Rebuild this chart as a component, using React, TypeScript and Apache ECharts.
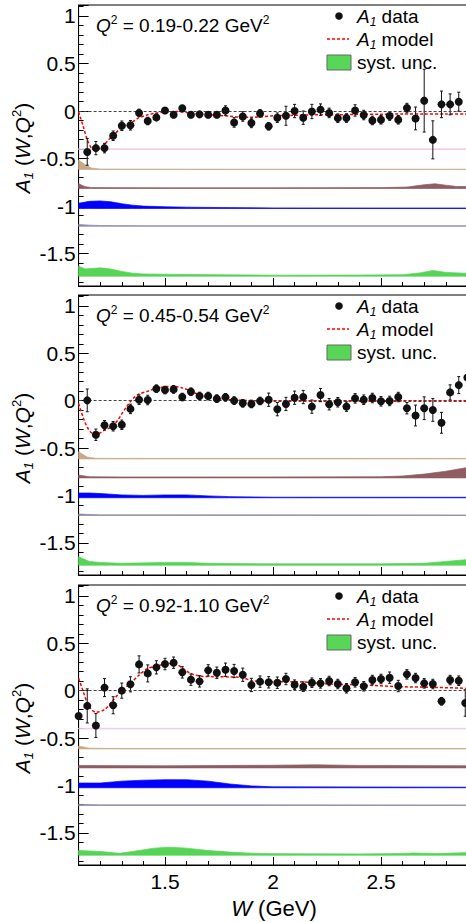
import React, { useEffect, useRef } from 'react';
import * as echarts from 'echarts';

// W bin centres (GeV)
const W_BINS = [
  1.14, 1.18, 1.22, 1.26, 1.30, 1.34, 1.38, 1.42, 1.46, 1.50, 1.54, 1.58, 1.62, 1.66, 1.70,
  1.74, 1.78, 1.82, 1.86, 1.90, 1.94, 1.98, 2.02, 2.06, 2.10, 2.14, 2.18, 2.22, 2.26, 2.30,
  2.34, 2.38, 2.42, 2.46, 2.50, 2.54, 2.58, 2.62, 2.66, 2.70, 2.74, 2.78, 2.82, 2.86, 2.90,
];
const W_P1 = W_BINS.slice(0, 44);
const W_P2 = W_BINS;
const W_P3 = [1.10, ...W_BINS.slice(0, 44), 2.89];

const Q2_LABELS = ['0.19-0.22', '0.45-0.54', '0.92-1.10'];

// A1 data and stat. errors
const A1_P1 = [
  -0.43, -0.39, -0.39, -0.26, -0.155, -0.15, -0.02, -0.105, -0.067, 0.006,
  -0.04, 0.03, -0.04, -0.035, -0.04, -0.04, 0.005, -0.12, -0.057, -0.125,
  -0.025, -0.16, -0.07, -0.05, 0.0, -0.07, -0.005, 0.015, -0.02, -0.075,
  -0.074, 0.006, -0.042, -0.099, -0.092, -0.053, -0.092, 0.031, -0.078, 0.109,
  -0.303, 0.07, 0.07, 0.098,
];
const ERR_P1 = [
  0.14, 0.07, 0.05, 0.05, 0.05, 0.05, 0.04, 0.04, 0.035, 0.03,
  0.03, 0.03, 0.03, 0.03, 0.03, 0.03, 0.05, 0.05, 0.05, 0.05,
  0.04, 0.04, 0.05, 0.1, 0.07, 0.07, 0.075, 0.06, 0.05, 0.045,
  0.045, 0.06, 0.05, 0.045, 0.045, 0.045, 0.045, 0.05, 0.12, 0.33,
  0.2, 0.14, 0.11, 0.1,
];
const A1_P2 = [
  0.003, -0.36, -0.26, -0.27, -0.255, -0.087, 0.01, 0.007, 0.126, 0.112,
  0.119, 0.038, 0.094, 0.049, 0.049, 0.021, 0.035, 0.0, -0.028, -0.035,
  -0.003, 0.01, -0.09, -0.035, 0.031, 0.038, -0.063, 0.059, -0.038, -0.017,
  -0.063, 0.024, 0.01, 0.028, -0.007, -0.003, 0.038, -0.08, -0.157, -0.08,
  -0.098, -0.234, 0.087, 0.164, 0.245,
];
const ERR_P2 = [
  0.12, 0.06, 0.05, 0.05, 0.05, 0.05, 0.05, 0.05, 0.04, 0.04,
  0.04, 0.04, 0.04, 0.04, 0.04, 0.04, 0.04, 0.04, 0.04, 0.04,
  0.04, 0.07, 0.07, 0.07, 0.07, 0.07, 0.07, 0.07, 0.06, 0.05,
  0.05, 0.05, 0.05, 0.05, 0.05, 0.05, 0.05, 0.06, 0.11, 0.12,
  0.12, 0.11, 0.08, 0.09, 0.09,
];
const A1_P3 = [
  -0.267, -0.161, -0.368, 0.032, -0.154, 0.0, 0.067, 0.277, 0.182, 0.246,
  0.281, 0.295, 0.193, 0.116, 0.098, 0.214, 0.189, 0.221, 0.207, 0.168,
  0.06, 0.095, 0.088, 0.084, 0.123, 0.063, 0.042, 0.084, 0.077, 0.102,
  0.07, 0.025, 0.088, 0.046, 0.112, 0.123, 0.137, 0.049, 0.172, 0.133,
  0.077, 0.07, -0.112, 0.112, 0.105, -0.13,
];
const ERR_P3 = [
  0.03, 0.18, 0.126, 0.095, 0.09, 0.08, 0.08, 0.09, 0.09, 0.07,
  0.06, 0.06, 0.06, 0.06, 0.06, 0.06, 0.06, 0.07, 0.07, 0.07,
  0.07, 0.06, 0.06, 0.06, 0.06, 0.05, 0.05, 0.05, 0.05, 0.05,
  0.05, 0.05, 0.05, 0.05, 0.05, 0.05, 0.06, 0.06, 0.05, 0.05,
  0.05, 0.05, 0.04, 0.05, 0.05, 0.14,
];

// A1 model curves [W, A1]
const MODEL_P1 = [
  [1.10, -0.01], [1.12, -0.15], [1.14, -0.30], [1.16, -0.39], [1.18, -0.41], [1.20, -0.39],
  [1.22, -0.35], [1.24, -0.30], [1.26, -0.26], [1.30, -0.17], [1.34, -0.13], [1.38, -0.07],
  [1.42, -0.04], [1.46, -0.02], [1.50, -0.01], [1.55, -0.005], [1.60, -0.015], [1.65, -0.03],
  [1.70, -0.04], [1.75, -0.045], [1.80, -0.055], [1.85, -0.065], [1.90, -0.065], [1.95, -0.06],
  [2.00, -0.05], [2.10, -0.045], [2.20, -0.04], [2.30, -0.04], [2.40, -0.035], [2.50, -0.035],
  [2.60, -0.03], [2.70, -0.03], [2.80, -0.03], [2.90, -0.03],
];
const MODEL_P2 = [
  [1.10, -0.03], [1.12, -0.17], [1.14, -0.28], [1.16, -0.34], [1.18, -0.355], [1.20, -0.34],
  [1.22, -0.31], [1.24, -0.29], [1.26, -0.26], [1.28, -0.21], [1.30, -0.14], [1.32, -0.07],
  [1.34, -0.01], [1.36, 0.04], [1.38, 0.07], [1.42, 0.10], [1.46, 0.13], [1.50, 0.145],
  [1.54, 0.15], [1.58, 0.135], [1.62, 0.10], [1.66, 0.06], [1.70, 0.035], [1.75, 0.02],
  [1.80, 0.01], [1.90, 0.0], [2.00, -0.005], [2.20, -0.005], [2.40, -0.005], [2.60, -0.005],
  [2.90, -0.005],
];
const MODEL_P3 = [
  [1.10, 0.13], [1.12, 0.0], [1.14, -0.13], [1.16, -0.2], [1.18, -0.228], [1.22, -0.2],
  [1.26, -0.1], [1.30, 0.0], [1.34, 0.077], [1.38, 0.165], [1.42, 0.235], [1.46, 0.26],
  [1.50, 0.28], [1.54, 0.288], [1.58, 0.24], [1.62, 0.18], [1.66, 0.154], [1.74, 0.147],
  [1.80, 0.145], [1.86, 0.137], [1.90, 0.105], [2.00, 0.095], [2.10, 0.095], [2.26, 0.07],
  [2.42, 0.06], [2.58, 0.042], [2.74, 0.035], [2.90, 0.025],
];

// systematic-uncertainty bands: baseline offsets and heights [W, size]
const BAND_BASE = [-0.405, -0.615, -0.815, -1.025, -1.212, -1.737];
const BAND_COLORS = ['#f2c4f0', '#c9a886', '#8e5c62', '#0000ff', '#8a8aaa', '#55d455'];

const BANDS_P1 = [
  [[1.1, 0.008], [2.9, 0.008]],
  [[1.1, 0.1], [1.13, 0.05], [1.16, 0.015], [1.2, 0.005], [1.5, 0.004], [2.0, 0.003], [2.9, 0.003]],
  [[1.1, 0.05], [1.13, 0.02], [1.16, 0.01], [1.5, 0.008], [2.0, 0.008], [2.5, 0.01], [2.62, 0.015],
    [2.7, 0.04], [2.75, 0.05], [2.8, 0.035], [2.85, 0.022], [2.9, 0.02]],
  [[1.1, 0.055], [1.15, 0.075], [1.2, 0.08], [1.25, 0.07], [1.3, 0.05], [1.35, 0.035], [1.4, 0.025],
    [1.5, 0.018], [1.6, 0.014], [1.75, 0.01], [2.0, 0.006], [2.5, 0.005], [2.9, 0.005]],
  [[1.1, 0.02], [1.15, 0.012], [1.2, 0.008], [1.4, 0.006], [2.9, 0.006]],
  [[1.1, 0.105], [1.13, 0.077], [1.16, 0.08], [1.2, 0.088], [1.25, 0.075], [1.3, 0.05], [1.35, 0.032],
    [1.4, 0.024], [1.6, 0.018], [2.0, 0.011], [2.4, 0.012], [2.6, 0.016], [2.68, 0.035], [2.74, 0.06],
    [2.8, 0.04], [2.9, 0.03]],
];
const BANDS_P2 = [
  [],
  [[1.1, 0.075], [1.14, 0.02], [1.18, 0.006], [1.5, 0.005], [2.9, 0.005]],
  [[1.1, 0.03], [1.15, 0.012], [1.3, 0.01], [2.0, 0.01], [2.5, 0.012], [2.6, 0.02], [2.7, 0.04],
    [2.8, 0.07], [2.9, 0.11]],
  [[1.1, 0.05], [1.15, 0.05], [1.2, 0.045], [1.3, 0.03], [1.4, 0.025], [1.5, 0.03], [1.6, 0.03],
    [1.7, 0.02], [1.8, 0.012], [2.0, 0.006], [2.9, 0.005]],
  [[1.1, 0.015], [1.2, 0.007], [2.9, 0.006]],
  [[1.1, 0.09], [1.15, 0.04], [1.2, 0.03], [1.3, 0.02], [1.5, 0.03], [1.6, 0.03], [1.7, 0.02],
    [2.0, 0.015], [2.5, 0.015], [2.7, 0.02], [2.8, 0.04], [2.9, 0.06]],
];
const BANDS_P3 = [
  [[1.1, 0.008], [2.9, 0.008]],
  [[1.1, 0.03], [1.15, 0.008], [1.3, 0.004], [2.9, 0.004]],
  [[1.1, 0.025], [1.5, 0.022], [2.0, 0.028], [2.2, 0.032], [2.4, 0.026], [2.9, 0.022]],
  [[1.1, 0.05], [1.2, 0.05], [1.3, 0.07], [1.4, 0.08], [1.5, 0.085], [1.6, 0.085], [1.7, 0.07],
    [1.8, 0.04], [1.9, 0.02], [2.0, 0.01], [2.9, 0.006]],
  [[1.1, 0.012], [1.2, 0.007], [2.9, 0.006]],
  [[1.1, 0.05], [1.2, 0.04], [1.29, 0.02], [1.35, 0.04], [1.45, 0.075], [1.52, 0.085], [1.6, 0.075],
    [1.7, 0.05], [1.8, 0.033], [1.9, 0.022], [2.0, 0.017], [2.4, 0.014], [2.6, 0.018], [2.65, 0.024],
    [2.75, 0.018], [2.9, 0.028]],
];

const FF = '"Liberation Sans", Arial, Helvetica, sans-serif';
const X_MIN = 1.1;
const X_MAX = 2.9;
const Y_MIN = -1.84;
const Y_MAX = 1.115;
const PANEL_TOP = [5, 295, 585];
const PANEL_H = [281, 280, 280];
const GRID_LEFT = 78.6;
const GRID_W = 388.8;

const richFor = (fs: number, small: number) => ({
  i: { fontStyle: 'italic', fontSize: fs, fontFamily: FF, lineHeight: fs + 4 },
  sub: { fontStyle: 'italic', fontSize: small, fontFamily: FF, verticalAlign: 'bottom', lineHeight: small },
  sup: { fontSize: small, fontFamily: FF, verticalAlign: 'top', lineHeight: small },
});

const halfTicks = (v: number) => {
  const r = Math.round(v * 2) / 2;
  return Math.abs(v - r) < 1e-6 ? String(r) : '';
};

const text = (x: number, y: number, t: string, fs: number, extra: any = {}) => ({
  type: 'text',
  x,
  y,
  silent: true,
  ...extra,
  style: {
    text: t,
    fontSize: fs,
    fontFamily: FF,
    lineHeight: fs + 4,
    fill: '#000',
    align: 'left',
    verticalAlign: 'middle',
    rich: richFor(fs, Math.round(fs * 0.63)),
    ...(extra.style || {}),
  },
});

function buildOption() {
  const panels = [
    { w: W_P1, a: A1_P1, e: ERR_P1, model: MODEL_P1, bands: BANDS_P1 },
    { w: W_P2, a: A1_P2, e: ERR_P2, model: MODEL_P2, bands: BANDS_P2 },
    { w: W_P3, a: A1_P3, e: ERR_P3, model: MODEL_P3, bands: BANDS_P3 },
  ];

  const grid: any[] = [];
  const xAxis: any[] = [];
  const yAxis: any[] = [];
  const series: any[] = [];
  const graphic: any[] = [];

  panels.forEach((p, k) => {
    const T = PANEL_TOP[k];
    grid.push({
      left: GRID_LEFT,
      top: T,
      width: GRID_W,
      height: PANEL_H[k],
      show: true,
      borderColor: '#000',
      borderWidth: 1,
      containLabel: false,
      outerBoundsMode: 'none',
    });
    xAxis.push({
      type: 'value',
      gridIndex: k,
      position: 'bottom',
      min: X_MIN,
      max: X_MAX,
      splitNumber: 4,
      axisLine: { show: true, onZero: false, lineStyle: { color: '#000', width: 1 } },
      axisTick: { show: true, inside: true, length: 8, lineStyle: { color: '#000', width: 1 } },
      minorTick: { show: true, splitNumber: 5, length: 4, lineStyle: { color: '#000', width: 1 } },
      splitLine: { show: false },
      minorSplitLine: { show: false },
      axisLabel: {
        show: k === 2,
        formatter: halfTicks,
        fontSize: 21,
        fontFamily: FF,
        color: '#000',
        margin: 6,
        showMinLabel: false,
        showMaxLabel: false,
      },
    });
    yAxis.push({
      type: 'value',
      gridIndex: k,
      position: 'left',
      min: Y_MIN,
      max: Y_MAX,
      splitNumber: 6,
      axisLine: { show: true, onZero: false, lineStyle: { color: '#000', width: 1 } },
      axisTick: { show: true, inside: true, length: 10, lineStyle: { color: '#000', width: 1 } },
      minorTick: { show: true, splitNumber: 5, length: 5, lineStyle: { color: '#000', width: 1 } },
      splitLine: { show: false },
      minorSplitLine: { show: false },
      axisLabel: {
        formatter: halfTicks,
        fontSize: 21,
        fontFamily: FF,
        color: '#000',
        margin: 3,
        showMinLabel: false,
        showMaxLabel: false,
      },
    });

    // systematic bands
    p.bands.forEach((pts: number[][], b: number) => {
      if (!pts.length) return;
      const base = BAND_BASE[b];
      const color = BAND_COLORS[b];
      series.push({
        type: 'custom',
        xAxisIndex: k,
        yAxisIndex: k,
        clip: true,
        silent: true,
        z: 1,
        data: pts,
        renderItem: (params: any, api: any) => {
          if (params.dataIndex !== 0) return null;
          const upper = pts.map(([w, h]) => api.coord([w, base + h]));
          const lower = pts.slice().reverse().map(([w]) => api.coord([w, base]));
          return {
            type: 'polygon',
            shape: { points: upper.concat(lower) },
            style: { fill: color, stroke: color, lineWidth: 0.7 },
          };
        },
      });
    });

    // model curve + zero line
    series.push({
      type: 'line',
      xAxisIndex: k,
      yAxisIndex: k,
      data: p.model,
      smooth: 0.3,
      symbol: 'none',
      silent: true,
      z: 3,
      lineStyle: { color: '#ff0000', width: 1.5, type: [3, 2] },
      markLine: {
        silent: true,
        symbol: ['none', 'none'],
        label: { show: false },
        lineStyle: { color: '#444', width: 1, type: [3, 2] },
        data: [{ yAxis: 0 }],
      },
    });

    // error bars
    series.push({
      type: 'custom',
      xAxisIndex: k,
      yAxisIndex: k,
      clip: true,
      silent: true,
      z: 4,
      data: p.w.map((w, i) => [w, p.a[i], p.e[i]]),
      renderItem: (params: any, api: any) => {
        const x = api.value(0);
        const y = api.value(1);
        const e = api.value(2);
        const top = api.coord([x, y + e]);
        const bot = api.coord([x, y - e]);
        const st = { stroke: '#111', lineWidth: 1 };
        return {
          type: 'group',
          children: [
            { type: 'line', shape: { x1: top[0], y1: top[1], x2: bot[0], y2: bot[1] }, style: st },
            { type: 'line', shape: { x1: top[0] - 1.5, y1: top[1], x2: top[0] + 1.5, y2: top[1] }, style: st },
            { type: 'line', shape: { x1: bot[0] - 1.5, y1: bot[1], x2: bot[0] + 1.5, y2: bot[1] }, style: st },
          ],
        };
      },
    });

    // data points
    series.push({
      type: 'scatter',
      xAxisIndex: k,
      yAxisIndex: k,
      data: p.w.map((w, i) => [w, p.a[i]]),
      symbol: 'circle',
      symbolSize: 8,
      silent: true,
      z: 5,
      itemStyle: { color: '#111', opacity: 1 },
    });

    // panel texts and legend
    graphic.push(text(96, T + 20, `{i|Q}{sup|2} = ${Q2_LABELS[k]} GeV{sup|2}`, 19));
    graphic.push({ type: 'circle', silent: true, shape: { cx: 339, cy: T + 11, r: 3.8 }, style: { fill: '#111' } });
    graphic.push(text(357, T + 11, '{i|A}{sub|1} data', 19));
    graphic.push({
      type: 'line',
      silent: true,
      shape: { x1: 327, y1: T + 34, x2: 349, y2: T + 34 },
      style: { stroke: '#ff0000', lineWidth: 1.5, lineDash: [3, 2] },
    });
    graphic.push(text(357, T + 34, '{i|A}{sub|1} model', 19));
    graphic.push({
      type: 'rect',
      silent: true,
      shape: { x: 327, y: T + 50, width: 24, height: 15 },
      style: { fill: '#57d657', stroke: '#666', lineWidth: 1 },
    });
    graphic.push(text(357, T + 57, 'syst. unc.', 19));
    graphic.push(
      text(22, T + 143, '{i|A}{sub|1} ({i|W},{i|Q}{sup|2})', 21, {
        rotation: Math.PI / 2,
        style: { align: 'center' },
      }),
    );
  });

  graphic.push(text(274, 908, '{i|W} (GeV)', 22, { style: { align: 'center' } }));

  return {
    animation: false,
    backgroundColor: '#fff',
    grid,
    xAxis,
    yAxis,
    series,
    graphic,
  };
}

export default function App() {
  const ref = useRef<HTMLDivElement>(null);

  useEffect(() => {
    if (!ref.current) return;
    const chart = echarts.init(ref.current, null, { renderer: 'svg' });
    chart.setOption(buildOption() as any);
    return () => {
      chart.dispose();
    };
  }, []);

  return <div ref={ref} style={{ position: 'absolute', left: 0, top: 0, width: 466, height: 922 }} />;
}
